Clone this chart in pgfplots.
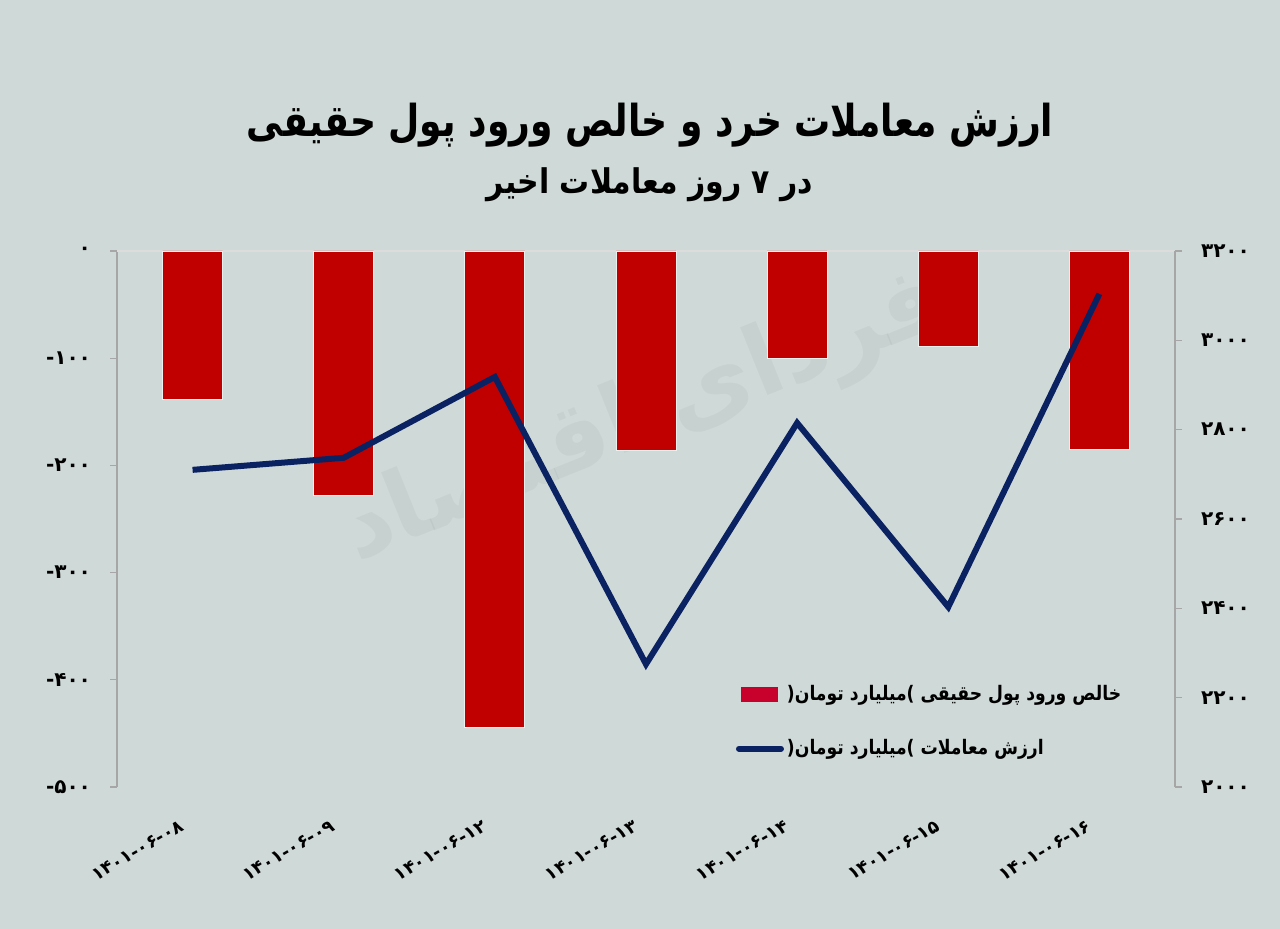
\documentclass[border=0pt]{standalone}
\usepackage{pgfplots}
\pgfplotsset{compat=1.18}
\usepackage{fontspec}
\setmainfont{DejaVu Sans}
\newfontfamily\fa[Script=Arabic]{DejaVu Sans}
\newfontfamily\fatitle[Script=Arabic, FakeStretch=0.82]{DejaVu Sans}
\newfontfamily\fasub[Script=Arabic, FakeStretch=0.88]{DejaVu Sans}
\newfontfamily\faleg[Script=Arabic, FakeStretch=0.86]{DejaVu Sans}
\TeXXeTstate=1
\definecolor{bg}{HTML}{CFD9D8}
\definecolor{barred}{HTML}{C00000}
\definecolor{legred}{HTML}{C8002C}
\definecolor{navy}{HTML}{0A2262}
\definecolor{axgray}{HTML}{A6A6A6}
\definecolor{topline}{HTML}{DCDCDC}
\begin{document}
\begin{tikzpicture}
\fill[bg] (0,0) rectangle (640pt,464.5pt);
\node[font=\fatitle\bfseries\fontsize{22}{26}\selectfont] at (325pt,402pt) {\beginR ارزش معاملات خرد و خالص ورود پول حقیقی\endR};
\node[font=\fasub\bfseries\fontsize{17}{20}\selectfont] at (325pt,372pt) {\beginR در ۷ روز معاملات اخیر\endR};
\node[font=\fa\bfseries\fontsize{48}{56}\selectfont, text=black, opacity=0.035, rotate=22] at (322pt,255pt) {\beginR فردای اقتصاد\endR};

\begin{axis}[at={(58.5pt,71pt)}, anchor=south west, scale only axis, width=529pt, height=268pt,
  xmin=-0.5, xmax=6.5, ymin=-500, ymax=0,
  axis y line*=left, axis x line*=bottom,
  x axis line style={draw=none},
  xtick={0,...,6},
  xticklabels={۱۴۰۱-۰۶-۰۸,۱۴۰۱-۰۶-۰۹,۱۴۰۱-۰۶-۱۲,۱۴۰۱-۰۶-۱۳,۱۴۰۱-۰۶-۱۴,۱۴۰۱-۰۶-۱۵,۱۴۰۱-۰۶-۱۶},
  xtick style={draw=none},
  xticklabel style={anchor=east, xshift=-2pt, yshift=-13.5pt, rotate=30, font=\bfseries\fontsize{9}{11}\selectfont},
  ytick={-500,-400,-300,-200,-100,0},
  yticklabels={-۵۰۰,-۴۰۰,-۳۰۰,-۲۰۰,-۱۰۰,۰},
  tick align=outside, major tick length=3.5pt,
  y axis line style={axgray, line width=0.6pt},
  ytick style={axgray, line width=0.6pt},
  yticklabel style={xshift=-6pt, font=\bfseries\fontsize{10}{12}\selectfont},
  extra y ticks={0}, extra y tick labels={},
  extra y tick style={grid=major, major grid style={topline, line width=1pt}, tick style={draw=none}},
]
\addplot[ybar, bar width=30pt, fill=barred, draw=white!60!bg, line width=0.4pt]
  coordinates {(0,-138) (1,-228) (2,-444) (3,-186) (4,-100) (5,-89) (6,-185)};
\end{axis}

\begin{axis}[at={(58.5pt,71pt)}, anchor=south west, scale only axis, width=529pt, height=268pt,
  xmin=-0.5, xmax=6.5, ymin=2000, ymax=3200,
  axis y line*=right, axis x line=none,
  ytick={2000,2200,2400,2600,2800,3000,3200},
  yticklabels={۲۰۰۰,۲۲۰۰,۲۴۰۰,۲۶۰۰,۲۸۰۰,۳۰۰۰,۳۲۰۰},
  tick align=outside, major tick length=3.5pt,
  y axis line style={axgray, line width=0.6pt},
  ytick style={axgray, line width=0.6pt},
  yticklabel style={xshift=6pt, font=\bfseries\fontsize{10}{12}\selectfont},
  legend style={at={(0.579,0.205)}, anchor=north west, draw=none, fill=none,
    font=\faleg\bfseries\fontsize{10}{12}\selectfont, row sep=14pt, cells={anchor=west},
    nodes={inner xsep=1.5pt}},
]
\addlegendimage{legend image code/.code={\fill[legred] (0pt,-3.5pt) rectangle (18pt,3.5pt);}}
\addlegendentry{\beginR خالص ورود پول حقیقی \mbox{)}میلیارد تومان\mbox{(}\endR}
\addplot[navy, line width=3pt, legend image code/.code={\draw[navy, line width=3pt, line cap=round] (-1pt,0pt) -- (20pt,0pt);}]
  coordinates {(0,2710) (1,2737) (2,2918) (3,2275) (4,2815) (5,2403) (6,3104)};
\addlegendentry{\beginR ارزش معاملات \mbox{)}میلیارد تومان\mbox{(}\endR}
\end{axis}
\end{tikzpicture}
\end{document}
